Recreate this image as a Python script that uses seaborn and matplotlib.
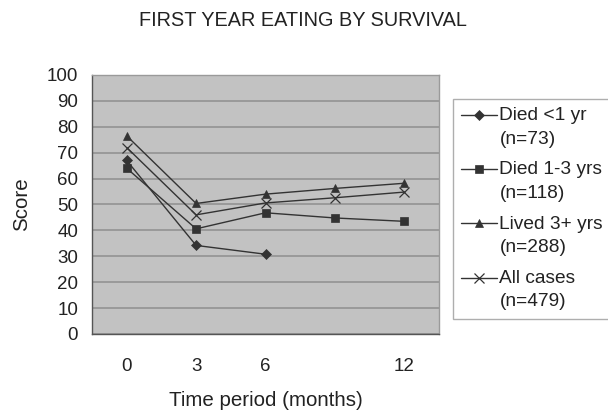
import numpy as np
import pandas as pd
import matplotlib
matplotlib.use("Agg")
import matplotlib.pyplot as plt
from matplotlib.legend_handler import HandlerLine2D
import seaborn as sns

# Follow-up time points (months) and the labels shown under them
months = [0, 3, 6, 9, 12]
month_labels = ["0", "3", "6", "", "12"]

# Mean eating score per survival group
died_lt1 = [67.0, 34.2, 30.8, np.nan, np.nan]
died_1to3 = [64.0, 40.6, 46.8, 44.8, 43.5]
lived_3plus = [76.5, 50.4, 54.0, 56.2, 58.2]
all_cases = [72.0, 46.0, 50.6, 52.6, 54.8]

series_names = ["Died <1 yr\n(n=73)", "Died 1-3 yrs\n(n=118)",
                "Lived 3+ yrs\n(n=288)", "All cases\n(n=479)"]
series_values = [died_lt1, died_1to3, lived_3plus, all_cases]
series_markers = ["D", "s", "^", "x"]
series_msize = [5, 5.5, 6, 6.5]

LEGEND_LINESPACING = 1.5


class FirstLineHandler(HandlerLine2D):
    """Legend handle drawn level with the first line of a two-line label."""

    def create_artists(self, legend, orig_handle, xdescent, ydescent,
                       width, height, fontsize, trans):
        artists = super().create_artists(legend, orig_handle, xdescent, ydescent,
                                         width, height, fontsize, trans)
        shift = 0.5 * LEGEND_LINESPACING * fontsize * 0.86
        for a in artists:
            a.set_ydata(np.asarray(a.get_ydata(), dtype=float) + shift)
        return artists


sns.set_theme(style="white")
plt.rcParams["font.family"] = ["Liberation Sans", "DejaVu Sans"]
text_color = "#222222"
line_color = "#333333"

fig = plt.figure(figsize=(6.08, 4.12), dpi=100)
ax = fig.add_axes([92 / 608, 1 - 334 / 412, (439 - 92) / 608, (334 - 75) / 412])
ax.set_facecolor("#c2c2c2")

for name, vals, mk, ms in zip(series_names, series_values, series_markers, series_msize):
    df = pd.DataFrame({"month": months, "score": vals}).dropna()
    sns.lineplot(data=df, x="month", y="score", ax=ax, color=line_color,
                 linewidth=1.0, marker=mk, markersize=ms,
                 markeredgecolor=line_color, markeredgewidth=0.9 if mk == "x" else 0.5,
                 label=name, zorder=3)

if ax.get_legend() is not None:
    ax.get_legend().remove()

# Axes limits and category-style x ticks
ax.set_xlim(-1.5, 13.5)
ax.set_ylim(0, 100)
ax.set_yticks(range(0, 101, 10))
ax.set_xticks(months)
ax.set_xticklabels(month_labels)
ax.set_xticks(np.arange(-1.5, 14, 3), minor=True)
ax.tick_params(axis="x", which="major", length=0, pad=17.5, labelsize=13.5, colors=text_color)
ax.tick_params(axis="x", which="minor", length=7, width=1, color="#555555", direction="out")
ax.tick_params(axis="y", which="major", length=7, width=1, color="#555555",
               direction="out", pad=3, labelsize=13.5, labelcolor=text_color)
ax.yaxis.grid(True, color="#8e8e8e", linewidth=1.1)
ax.xaxis.grid(False)
ax.set_axisbelow(True)

for side in ["left", "bottom"]:
    ax.spines[side].set_color("#555555")
    ax.spines[side].set_linewidth(1.0)
for side in ["top", "right"]:
    ax.spines[side].set_color("#9a9a9a")
    ax.spines[side].set_linewidth(1.0)

ax.set_xlabel("Time period (months)", fontsize=14.8, color=text_color, labelpad=11)
ax.set_ylabel("Score", fontsize=14.8, color=text_color, labelpad=11)

fig.text(303 / 608, 1 - 20 / 412, "FIRST YEAR EATING BY SURVIVAL", ha="center",
         va="center", fontsize=14.3, color=text_color)

handles, labels = ax.get_legend_handles_labels()
leg = fig.legend(handles, labels, loc="upper left",
                 bbox_to_anchor=(453 / 608, 1 - 99 / 412), borderaxespad=0,
                 frameon=True, fancybox=False, edgecolor="#9a9a9a",
                 fontsize=13.8, handlelength=1.85, handletextpad=0.15,
                 labelspacing=0.72, borderpad=0.42, labelcolor=text_color,
                 handler_map={h: FirstLineHandler() for h in handles})
for t in leg.get_texts():
    t.set_linespacing(LEGEND_LINESPACING)
leg.get_frame().set_linewidth(1.0)

fig.savefig("out.png", dpi=100)
